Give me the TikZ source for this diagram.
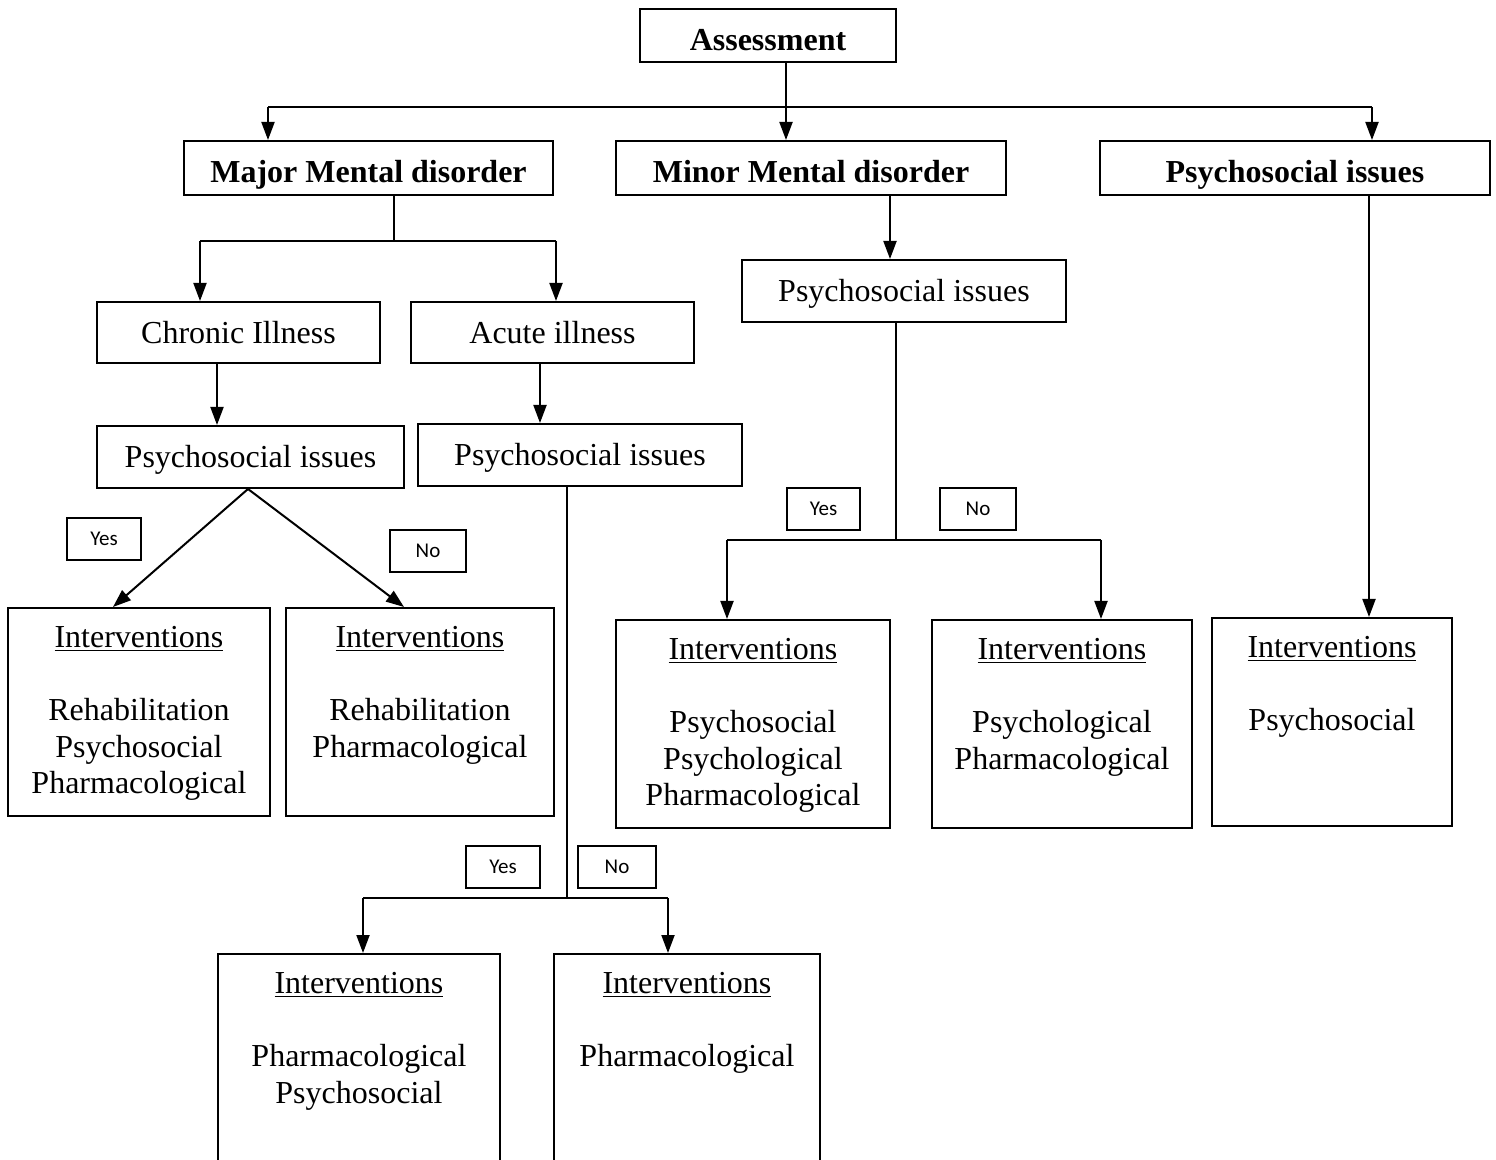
\documentclass[tikz,border=0pt]{standalone}
\usepackage{fontspec}
\setmainfont{Liberation Serif}
\newfontfamily\labelfont{Carlito}
\usetikzlibrary{arrows.meta,calc}
\begin{document}
\begin{tikzpicture}[x=0.5pt,y=-0.5pt,
  every node/.style={font=\fontsize{16}{18.25}\selectfont},
  box/.style={draw,line width=1pt,inner sep=0pt},
  single/.style={box,text height=11pt,text depth=0pt},
  head/.style={box,text height=15pt,text depth=0pt,
    font=\fontsize{16}{18.25}\selectfont\bfseries},
  tag/.style={draw,line width=0.8pt,inner sep=0pt,minimum height=21pt,
    font=\labelfont\fontsize{10.5}{12}\selectfont},
  body/.style={anchor=north,align=center,inner sep=0pt},
  link/.style={line width=1pt},
  arr/.style={link,-{Triangle[length=9pt,width=6.5pt]}}
]
\clip (0,0) rectangle (1496,1160);
\fill[white] (0,0) rectangle (1496,1160);

% ---------- top levels ----------
\node[head,minimum width=128pt,minimum height=26.5pt] (assess) at (768,35.5) {Assessment};
\node[head,minimum width=184.5pt,minimum height=27pt] (major) at (368.5,168) {Major Mental disorder};
\node[head,minimum width=195pt,minimum height=27pt] (minor) at (811,168) {Minor Mental disorder};
\node[head,minimum width=195pt,minimum height=27pt] (psyR) at (1295,168) {Psychosocial issues};

\coordinate (b1L) at (268,107);
\coordinate (b1M) at (786,107);
\coordinate (b1R) at (1372,107);
\draw[link] (b1M |- assess.south) -- (b1M);
\draw[link] (b1L) -- (b1R);
\draw[arr] (b1L) -- (b1L |- major.north);
\draw[arr] (b1M) -- (b1M |- minor.north);
\draw[arr] (b1R) -- (b1R |- psyR.north);

% ---------- major mental disorder branch ----------
\node[single,minimum width=141.5pt,minimum height=30.5pt] (chronic) at (238.5,332.5) {Chronic Illness};
\node[single,minimum width=141.5pt,minimum height=30.5pt] (acute) at (552.5,332.5) {Acute illness};
\node[single,minimum width=153.5pt,minimum height=31pt] (psyC) at (250.5,457) {Psychosocial issues};
\node[single,minimum width=162pt,minimum height=31pt] (psyA) at (580,455) {Psychosocial issues};

\coordinate (b2L) at (200,241);
\coordinate (b2M) at (394,241);
\coordinate (b2R) at (556,241);
\draw[link] (b2M |- major.south) -- (b2M);
\draw[link] (b2L) -- (b2R);
\draw[arr] (b2L) -- (b2L |- chronic.north);
\draw[arr] (b2R) -- (b2R |- acute.north);

\coordinate (xc) at (217,0);
\coordinate (xa) at (540,0);
\draw[arr] (xc |- chronic.south) -- (xc |- psyC.north);
\draw[arr] (xa |- acute.south) -- (xa |- psyA.north);

% chronic illness outcomes
\node[box,minimum width=131pt,minimum height=104pt] (int1) at (139,712) {};
\node[box,minimum width=134pt,minimum height=104pt] (int2) at (420,712) {};
\node[body] (int1t) at ($(int1.north)+(0,19)$)
  {\underline{Interventions}\\[18.25pt]Rehabilitation\\Psychosocial\\Pharmacological};
\node[body] (int2t) at ($(int2.north)+(0,19)$)
  {\underline{Interventions}\\[18.25pt]Rehabilitation\\Pharmacological};
\coordinate (t1) at (113,0);
\coordinate (t2) at (404,0);
\draw[arr] ($(psyC.south)+(-2.5,0)$) -- (t1 |- int1.north);
\draw[arr] ($(psyC.south)+(-2.5,0)$) -- (t2 |- int2.north);
\node[tag,minimum width=37pt] (yes1) at (104,539) {Yes};
\node[tag,minimum width=38pt] (no1) at (428,551) {No};

% acute illness outcomes
\node[box,minimum width=141pt,minimum height=118pt] (int6) at (359,1072) {};
\node[box,minimum width=133pt,minimum height=118pt] (int7) at (687,1072) {};
\node[body] (int6t) at ($(int6.north)+(0,19)$)
  {\underline{Interventions}\\[18.25pt]Pharmacological\\Psychosocial};
\node[body] (int7t) at ($(int7.north)+(0,19)$)
  {\underline{Interventions}\\[18.25pt]Pharmacological};
\coordinate (b3M) at (567,898);
\coordinate (b3L) at (363,898);
\coordinate (b3R) at (668,898);
\draw[link] (b3M |- psyA.south) -- (b3M);
\draw[link] (b3L) -- (b3R);
\draw[arr] (b3L) -- (b3L |- int6.north);
\draw[arr] (b3R) -- (b3R |- int7.north);
\node[tag,minimum width=37pt] (yes3) at (503,867) {Yes};
\node[tag,minimum width=39pt] (no3) at (617,867) {No};

% ---------- minor mental disorder branch ----------
\node[single,minimum width=162pt,minimum height=31pt] (psyM) at (904,291) {Psychosocial issues};
\coordinate (xm) at (890,0);
\draw[arr] (xm |- minor.south) -- (xm |- psyM.north);

\node[box,minimum width=137pt,minimum height=104pt] (int3) at (753,724) {};
\node[box,minimum width=130pt,minimum height=104pt] (int4) at (1062,724) {};
\node[body] (int3t) at ($(int3.north)+(0,19)$)
  {\underline{Interventions}\\[18.25pt]Psychosocial\\Psychological\\Pharmacological};
\node[body] (int4t) at ($(int4.north)+(0,19)$)
  {\underline{Interventions}\\[18.25pt]Psychological\\Pharmacological};
\coordinate (b4M) at (896,540);
\coordinate (b4L) at (727,540);
\coordinate (b4R) at (1101,540);
\draw[link] (b4M |- psyM.south) -- (b4M);
\draw[link] (b4L) -- (b4R);
\draw[arr] (b4L) -- (b4L |- int3.north);
\draw[arr] (b4R) -- (b4R |- int4.north);
\node[tag,minimum width=36.5pt] (yes4) at (823.5,509) {Yes};
\node[tag,minimum width=38pt] (no4) at (978,509) {No};

% ---------- psychosocial issues branch ----------
\node[box,minimum width=120pt,minimum height=104pt] (int5) at (1332,722) {};
\node[body] (int5t) at ($(int5.north)+(0,19)$)
  {\underline{Interventions}\\[18.25pt]Psychosocial};
\coordinate (xr) at (1369,0);
\draw[arr] (xr |- psyR.south) -- (xr |- int5.north);
\end{tikzpicture}
\end{document}
